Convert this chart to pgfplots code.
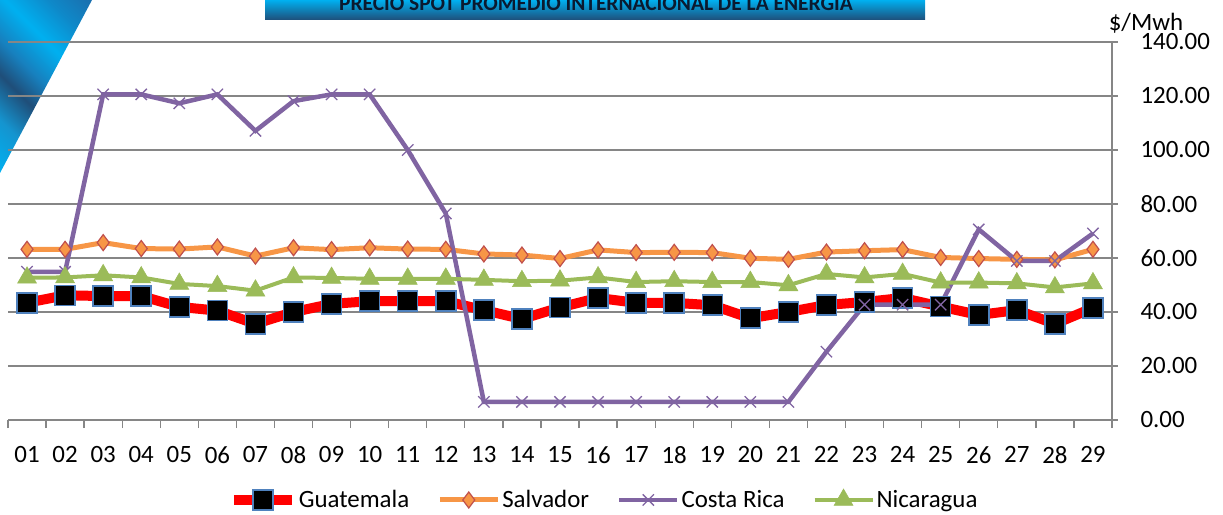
\documentclass[border=0pt]{standalone}
\usepackage{fontspec}
\setmainfont{Carlito}
\usepackage{pgfplots}
\usepackage{pgfplotstable}
\pgfplotsset{compat=1.18}

\definecolor{gridgray}{HTML}{868686}
\definecolor{guared}{HTML}{FF0000}
\definecolor{guaedge}{HTML}{4F81BD}
\definecolor{salorange}{HTML}{F79646}
\definecolor{saledge}{HTML}{C0504D}
\definecolor{crpurple}{HTML}{8064A2}
\definecolor{nicgreen}{HTML}{9BBB59}
\definecolor{cyanb}{HTML}{00B0F0}
\definecolor{navyb}{HTML}{1F4E79}
\definecolor{midb}{HTML}{1594CF}
\definecolor{midb2}{HTML}{1780BE}
\definecolor{midb3}{HTML}{0F88C8}
\definecolor{midb4}{HTML}{1A6FAE}
\definecolor{titletext}{HTML}{0A1A30}

% franjas diagonales de la esquina
\pgfdeclarehorizontalshading{diagstripes}{100bp}{color(0bp)=(cyanb); color(14.6bp)=(cyanb);
  color(25.4bp)=(midb); color(34.7bp)=(navyb); color(41.8bp)=(midb2); color(51bp)=(cyanb);
  color(60.2bp)=(midb3); color(68.8bp)=(midb4); color(100bp)=(midb4)}

% dia  Guatemala Salvador CostaRica Nicaragua
\pgfplotstableread{
dia gua sal cr nic
1  43.4 63.2 54.9  52.7
2  46.2 63.2 54.9  52.8
3  45.9 65.7 120.6 53.6
4  45.9 63.5 120.6 52.8
5  41.9 63.3 117.3 50.4
6  40.5 64.1 120.6 49.6
7  35.6 60.7 107.1 47.9
8  40.0 63.8 118.1 52.8
9  43.0 63.1 120.6 52.6
10 44.0 63.8 120.6 52.3
11 44.0 63.3 100.0 52.3
12 44.0 63.2 76.5  52.3
13 40.7 61.5 6.7   51.9
14 37.4 61.1 6.7   51.4
15 41.7 59.8 6.7   51.6
16 45.2 63.0 6.7   52.8
17 43.4 62.0 6.7   51.1
18 43.4 62.1 6.7   51.4
19 42.5 62.0 6.7   51.1
20 37.7 59.9 6.7   51.1
21 40.0 59.5 6.7   49.9
22 42.6 62.2 25.3  54.1
23 43.7 62.7 42.7  52.8
24 45.2 63.1 42.7  54.1
25 42.0 60.2 42.7  50.9
26 38.9 59.8 70.6  50.9
27 40.7 59.5 58.9  50.6
28 35.6 59.3 58.9  49.1
29 41.5 63.2 69.1  50.6
}\precios

\begin{document}
\begin{tikzpicture}
\path[use as bounding box] (0,0) rectangle (1223bp,515bp);

% decoracion superior
\begin{scope}
  \clip (0,515bp) -- (92bp,515bp) -- (0,342bp) -- cycle;
  \shade[shading=diagstripes, shading angle=45] (0,342bp) rectangle (173bp,515bp);
\end{scope}
\shade[top color=cyanb, bottom color=navyb] (265bp,495bp) rectangle (925bp,515bp);
\node[anchor=base, inner sep=0, text=titletext, font=\fontsize{21.5}{24}\selectfont\bfseries]
  at (596bp,504bp) {PRECIO SPOT PROMEDIO INTERNACIONAL DE LA ENERGIA};

\begin{axis}[
    at={(8bp,95bp)}, anchor=south west,
    scale only axis,
    width=1104bp, height=378bp,
    xmin=0.5, xmax=29.5,
    ymin=0, ymax=140,
    axis x line=bottom, axis y line=right,
    axis line style={-, gridgray, line width=1.3bp},
    ytick={0,20,...,140},
    ymajorgrids,
    grid style={gridgray, line width=1.3bp},
    xtick={1,...,29},
    xticklabels={01,02,03,04,05,06,07,08,09,10,11,12,13,14,15,16,17,18,19,20,21,22,23,24,25,26,27,28,29},
    minor xtick={0.5,1.5,...,29.5},
    major x tick style={draw=none},
    tick align=outside,
    major tick length=6bp,
    minor tick length=8bp,
    tick style={gridgray, line width=1.3bp},
    tick label style={font=\fontsize{25}{29}\selectfont},
    xticklabel style={yshift=-17bp},
    yticklabel style={xshift=19bp, /pgf/number format/.cd, fixed, fixed zerofill, precision=2, 1000 sep={}, assume math mode=true},
    legend columns=4,
    legend style={at={(0.54,-0.2116)}, anchor=center, draw=none, fill=none,
        font=\fontsize{25}{29}\selectfont,
        /tikz/every even column/.append style={column sep=26bp}},
    legend image code/.code={\draw[mark repeat=2, mark phase=2] plot coordinates {(0bp,0bp) (29bp,0bp) (58bp,0bp)};},
    clip=false
]

\addplot[guared, line width=10bp, mark=square*, mark size=10bp,
    mark options={fill=black, draw=guaedge, line width=1.5bp}] table[x=dia, y=gua] {\precios};
\addlegendentry{Guatemala}

\addplot[salorange, line width=5bp, mark=diamond*, mark size=8bp,
    mark options={fill=salorange, draw=saledge, line width=1.2bp}] table[x=dia, y=sal] {\precios};
\addlegendentry{Salvador}

\addplot[crpurple, line width=4.5bp, mark=x, mark size=8bp,
    mark options={line width=1.3bp}] table[x=dia, y=cr] {\precios};
\addlegendentry{Costa Rica}

\addplot[nicgreen, line width=4bp, mark=triangle*, mark size=11bp,
    mark options={fill=nicgreen, draw=nicgreen, line width=0.5bp}] table[x=dia, y=nic] {\precios};
\addlegendentry{Nicaragua}

\end{axis}

\node[font=\fontsize{25}{29}\selectfont] at (1146bp,492bp) {\$/Mwh};
\end{tikzpicture}
\end{document}
